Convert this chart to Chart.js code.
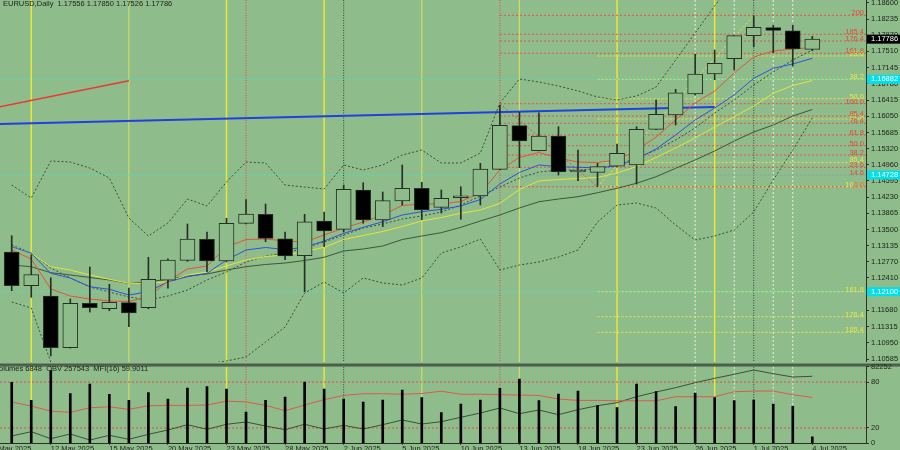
<!DOCTYPE html>
<html>
<head>
<meta charset="utf-8">
<title>EURUSD Daily</title>
<script src="https://cdn.jsdelivr.net/npm/chart.js@4.4.1/dist/chart.umd.min.js"></script>
<style>
  html, body { margin: 0; padding: 0; background: #8fbc8b; overflow: hidden; }
  #wrap { position: relative; width: 900px; height: 450px; }
  canvas { position: absolute; left: 0; }
  #priceChart { top: 0; }
  #volChart { top: 362px; }
</style>
</head>
<body>
<div id="wrap">
  <canvas id="priceChart" width="900" height="362"></canvas>
  <canvas id="volChart" width="900" height="88"></canvas>
</div>
<script>
const BG = '#8fbc8b';
const INK = '#1b211b';
const EDGE = '#263026';
const FONT_FAMILY = '"Liberation Sans", Arial, sans-serif';
const FONT_SIZE = 7.5;
const FONT = FONT_SIZE + 'px ' + FONT_FAMILY;
const X_MIN = -0.6;
const X_MAX = 43.75;

// daily bars, 8 May 2025 .. 4 Jul 2025
const opens = [1.12994, 1.12235, 1.12003, 1.10839, 1.11839, 1.11717, 1.11853, 1.11740, 1.12357, 1.12807, 1.13280, 1.12791, 1.13640, 1.13843, 1.13293, 1.12911, 1.13692, 1.13505, 1.14390, 1.13714, 1.14142, 1.14428, 1.14000, 1.14216, 1.14255, 1.14856, 1.15838, 1.15275, 1.15606, 1.14795, 1.14788, 1.14924, 1.14953, 1.15756, 1.16080, 1.16551, 1.17002, 1.17346, 1.17864, 1.18044, 1.17976, 1.17556];
const highs = [1.13361, 1.12933, 1.12415, 1.11936, 1.12656, 1.12267, 1.12184, 1.12875, 1.12843, 1.13624, 1.13444, 1.13753, 1.14176, 1.14075, 1.13444, 1.13843, 1.13895, 1.14502, 1.14554, 1.14345, 1.14953, 1.14563, 1.14390, 1.14464, 1.14991, 1.16304, 1.16139, 1.16130, 1.15815, 1.15290, 1.14991, 1.15426, 1.15815, 1.16416, 1.16657, 1.17452, 1.17542, 1.17870, 1.18314, 1.18105, 1.18105, 1.17850];
const lows = [1.12123, 1.11974, 1.10653, 1.10830, 1.11643, 1.11672, 1.11312, 1.11717, 1.12177, 1.12784, 1.12550, 1.12769, 1.13625, 1.13226, 1.12821, 1.12100, 1.13113, 1.13450, 1.13640, 1.13564, 1.14052, 1.13721, 1.13872, 1.13730, 1.14052, 1.14850, 1.14892, 1.15268, 1.14728, 1.14599, 1.14464, 1.14915, 1.14525, 1.15750, 1.15853, 1.16530, 1.16873, 1.17092, 1.17616, 1.17481, 1.17182, 1.17526];
const closes = [1.12235, 1.12483, 1.10839, 1.11839, 1.11740, 1.11862, 1.11621, 1.12379, 1.12814, 1.13287, 1.12791, 1.13640, 1.13850, 1.13302, 1.12904, 1.13676, 1.13467, 1.14406, 1.13714, 1.14149, 1.14428, 1.13940, 1.14203, 1.14236, 1.14863, 1.15847, 1.15493, 1.15606, 1.14795, 1.14810, 1.14915, 1.15216, 1.15756, 1.16094, 1.16580, 1.17002, 1.17242, 1.17864, 1.18053, 1.17985, 1.17564, 1.17786];

// moving averages
const maRed = [1.13039, 1.12836, 1.12161, 1.12003, 1.11936, 1.11891, 1.11880, 1.11981, 1.12341, 1.12611, 1.12679, 1.13107, 1.13275, 1.13287, 1.13242, 1.13219, 1.13377, 1.13534, 1.13669, 1.13827, 1.14041, 1.14075, 1.14075, 1.14131, 1.14322, 1.14840, 1.15122, 1.15234, 1.15110, 1.15020, 1.15009, 1.15065, 1.15290, 1.15583, 1.15966, 1.16349, 1.16619, 1.17024, 1.17384, 1.17519, 1.17564, 1.17598];
const maBlue = [1.13113, 1.12965, 1.12514, 1.12409, 1.12213, 1.12154, 1.12026, 1.12100, 1.12325, 1.12438, 1.12514, 1.12814, 1.13039, 1.13095, 1.13050, 1.13100, 1.13242, 1.13415, 1.13550, 1.13676, 1.13827, 1.13901, 1.13955, 1.14030, 1.14176, 1.14525, 1.14784, 1.14953, 1.14914, 1.14901, 1.14890, 1.14930, 1.15088, 1.15313, 1.15628, 1.15966, 1.16236, 1.16529, 1.16905, 1.17130, 1.17227, 1.17355];
const maYellow = [1.13113, 1.12965, 1.12663, 1.12589, 1.12476, 1.12379, 1.12289, 1.12289, 1.12325, 1.12476, 1.12544, 1.12679, 1.12814, 1.12893, 1.12926, 1.13001, 1.13100, 1.13275, 1.13366, 1.13456, 1.13568, 1.13692, 1.13771, 1.13865, 1.13940, 1.14090, 1.14401, 1.14593, 1.14626, 1.14649, 1.14671, 1.14773, 1.14919, 1.15122, 1.15335, 1.15561, 1.15808, 1.16040, 1.16281, 1.16567, 1.16743, 1.16855];
const maGray = [1.12701, 1.12663, 1.12528, 1.12476, 1.12420, 1.12364, 1.12285, 1.12325, 1.12379, 1.12454, 1.12499, 1.12589, 1.12663, 1.12713, 1.12746, 1.12803, 1.12875, 1.13017, 1.13062, 1.13129, 1.13275, 1.13354, 1.13429, 1.13550, 1.13692, 1.13827, 1.13985, 1.14126, 1.14187, 1.14239, 1.14329, 1.14428, 1.14541, 1.14689, 1.14878, 1.15065, 1.15268, 1.15493, 1.15696, 1.15853, 1.16056, 1.16202];

// bands (dotted)
const bandUpper = [1.14502, 1.14210, 1.15043, 1.15020, 1.14885, 1.14660, 1.13760, 1.13354, 1.13647, 1.14187, 1.14030, 1.14570, 1.15020, 1.14998, 1.14502, 1.14457, 1.14412, 1.14953, 1.14840, 1.14953, 1.15178, 1.15290, 1.14998, 1.14998, 1.15223, 1.16349, 1.16889, 1.16821, 1.16731, 1.16619, 1.16484, 1.16416, 1.16506, 1.16709, 1.17317, 1.17925, 1.18532, 1.19118, 1.19568, 1.19906, 1.20131, 1.20289];
const bandMid = [1.13152, 1.12972, 1.12634, 1.12409, 1.12206, 1.12093, 1.11981, 1.11913, 1.12003, 1.12138, 1.12364, 1.12544, 1.12769, 1.12904, 1.12972, 1.13084, 1.13219, 1.13377, 1.13534, 1.13624, 1.13737, 1.13805, 1.13895, 1.14052, 1.14255, 1.14457, 1.14660, 1.14795, 1.14840, 1.14840, 1.14863, 1.14953, 1.15110, 1.15290, 1.15516, 1.15786, 1.16123, 1.16416, 1.16754, 1.17047, 1.17317, 1.17542];
const bandLower = [1.11868, 1.11733, 1.10517, 1.10225, 1.10067, 1.10112, 1.10225, 1.10337, 1.10382, 1.10427, 1.10472, 1.10540, 1.10630, 1.10968, 1.11305, 1.12071, 1.12319, 1.12071, 1.12409, 1.12296, 1.12251, 1.12409, 1.12972, 1.13107, 1.13287, 1.12589, 1.12701, 1.12769, 1.12881, 1.13039, 1.13669, 1.14052, 1.14097, 1.13985, 1.13602, 1.13264, 1.13354, 1.13489, 1.13895, 1.14615, 1.15290, 1.16011];

// lower pane
const volumes = [65500, 46170, 77960, 53260, 63670, 52620, 46170, 54330, 47570, 59380, 60780, 58310, 33610, 46170, 49720, 65820, 58310, 47570, 44350, 46500, 57230, 48970, 32860, 42200, 46500, 59060, 69040, 45740, 52940, 56160, 40370, 38230, 63670, 55410, 39300, 54010, 48970, 45740, 46500, 42200, 39730, 6848];
const obv = [-399000, -351900, -428900, -377200, -443200, -391500, -435500, -380500, -333200, -274900, -325500, -270500, -245200, -289200, -329900, -270500, -322200, -281500, -322200, -274900, -223200, -267200, -241900, -193500, -146200, -91200, -153900, -113200, -164900, -109900, -65900, -32900, 33100, 84800, 132100, 187100, 235500, 279500, 326800, 286100, 249800, 257543];
const mfi = [54, 48.6, 42, 40.4, 46.4, 47.7, 44.3, 49, 49.5, 49.5, 50, 55, 54, 49.5, 42.5, 50, 57, 62.5, 64.7, 64.7, 64, 65, 68, 64, 64, 63.4, 63, 62.5, 57.8, 56, 56, 55.5, 55.5, 55.5, 60.8, 60.8, 60.8, 67.3, 68.2, 68.2, 63.4, 59.9011];
const VOL_MAX = 82252;
const OBV_MIN = -479500;
const OBV_MAX = 363100;
const mfiLevels = [20, 80];
const paneTicks = [0, 20, 80, 100];
const paneTickLabels = ['0', '20', '80', String(VOL_MAX)];

// axes
const priceTicks = [1.18600, 1.18235, 1.17870, 1.17510, 1.17145, 1.16780, 1.16415, 1.16050, 1.15685, 1.15320, 1.14960, 1.14595, 1.14230, 1.13865, 1.13500, 1.13135, 1.12770, 1.12410, 1.12045, 1.11680, 1.11315, 1.10950, 1.10585];
const dateTickIdx = [-1, 2, 5, 8, 11, 14, 17, 20, 23, 26, 29, 32, 35, 38, 41];
const dateTickLabels = ['7 May 2025', '12 May 2025', '15 May 2025', '20 May 2025', '23 May 2025', '28 May 2025', '2 Jun 2025', '5 Jun 2025', '10 Jun 2025', '13 Jun 2025', '18 Jun 2025', '23 Jun 2025', '26 Jun 2025', '1 Jul 2025', '4 Jul 2025'];

// drawing objects
const brightWeekLines = [1, 11, 16, 31, 36];
const paleWeekLines = [6, 21, 26];
const redMarkLines = [12, 25];
const darkMarkLines = [17, 38];
const whiteMarkLines = [35, 37, 39, 40];
const redFibStart = 25;
const redFibLevels = [1.18323, 1.17895, 1.17744, 1.17468, 1.16333, 1.16056, 1.15892, 1.15628, 1.15387, 1.15178, 1.14901, 1.14728, 1.14464];
const redFibLabels = ['200', '185.4', '176.4', '161.8', '100.0', '85.4', '76.4', '61.8', '50.0', '38.2', '23.6', '14.6', '0.0'];
const yellowFibStart = 30;
const yellowFibLevels = [1.17407, 1.16882, 1.16445, 1.15988, 1.15013, 1.14464, 1.12100, 1.11537, 1.11186];
const yellowFibLabels = ['23.6', '38.2', '50.0', '61.8', '85.4', '100.0', '161.8', '176.4', '185.4'];
const cyanLevels = [1.16882, 1.14728, 1.12100];
const blueTrendX = [-1, 36];
const blueTrendY = [1.15872, 1.16259];
const redTrendX = [-1, 6];
const redTrendY = [1.16230, 1.16851];
const redDiagX = [25, 30];
const redDiagY = [1.16333, 1.14464];
const yellowDiagX = [30, 38];
const yellowDiagY = [1.14464, 1.18314];

Chart.defaults.font.family = FONT_FAMILY;
Chart.defaults.font.size = FONT_SIZE;
Chart.defaults.color = INK;

const last = closes.length - 1;

function series(values) {
    return values.map((v, i) => ({ x: i, y: v }));
}

function points(xs, ys) {
    return xs.map((x, i) => ({ x: x, y: ys[i] }));
}

function lineDs(data, color, width, dash, order, axis) {
    return {
        type: 'line',
        data: data,
        borderColor: color,
        borderWidth: width,
        borderDash: dash,
        pointRadius: 0,
        tension: 0,
        order: order,
        yAxisID: axis || 'y'
    };
}

function drawVLines(chart) {
    const { ctx, chartArea: a, scales: { x } } = chart;
    ctx.save();
    ctx.beginPath();
    ctx.rect(a.left, a.top, a.right - a.left, a.bottom - a.top);
    ctx.clip();
    const strokeAt = (list, color, width, dash) => {
        ctx.strokeStyle = color;
        ctx.lineWidth = width;
        ctx.setLineDash(dash);
        list.forEach(i => {
            const px = x.getPixelForValue(i);
            ctx.beginPath();
            ctx.moveTo(px, a.top);
            ctx.lineTo(px, a.bottom);
            ctx.stroke();
        });
    };
    strokeAt(paleWeekLines, '#cfdc6a', 1.2, []);
    strokeAt(brightWeekLines, '#e8e838', 1.5, []);
    strokeAt(redMarkLines, '#e04848', 1, [1, 1.5]);
    strokeAt(darkMarkLines, '#34423a', 1, [1, 1.5]);
    strokeAt(whiteMarkLines, '#e8eee0', 1, [2, 2]);
    ctx.restore();
}

const vlinePlugin = { id: 'vlines', beforeDatasetsDraw: drawVLines };

// fib labels, header and axis boxes on the price pane
const priceOverlay = {
    id: 'priceOverlay',
    afterDraw(chart) {
        const { ctx, chartArea: a, scales: { y } } = chart;
        ctx.save();
        ctx.font = FONT;
        ctx.textBaseline = 'middle';
        ctx.textAlign = 'right';
        ctx.fillStyle = '#e6e64a';
        yellowFibLevels.forEach((v, k) => ctx.fillText(yellowFibLabels[k], a.right - 2, y.getPixelForValue(v) - 2));
        ctx.fillStyle = '#e8483c';
        redFibLevels.forEach((v, k) => ctx.fillText(redFibLabels[k], a.right - 2, y.getPixelForValue(v) - 2));

        ctx.textAlign = 'left';
        ctx.fillStyle = INK;
        ctx.fillText('EURUSD,Daily  ' + [opens[last], highs[last], lows[last], closes[last]].map(v => v.toFixed(5)).join(' '), 3, 4);

        const box = (v, bg) => {
            const py = y.getPixelForValue(v);
            ctx.fillStyle = bg;
            ctx.fillRect(a.right + 1, py - 4.5, chart.width - a.right - 1, 9);
            ctx.fillStyle = '#ffffff';
            ctx.fillText(v.toFixed(5), a.right + 5, py);
        };
        cyanLevels.forEach(v => box(v, '#00e0e8'));
        box(closes[last], '#000000');
        ctx.restore();
    }
};

const paneOverlay = {
    id: 'paneOverlay',
    afterDraw(chart) {
        const { ctx, chartArea: a } = chart;
        ctx.save();
        ctx.strokeStyle = '#2b302b';
        ctx.lineWidth = 1;
        [a.top - 2.5, a.top - 0.8].forEach(py => {
            ctx.beginPath();
            ctx.moveTo(0, py);
            ctx.lineTo(chart.width, py);
            ctx.stroke();
        });
        ctx.font = FONT;
        ctx.fillStyle = INK;
        ctx.textBaseline = 'middle';
        ctx.fillText('Volumes ' + volumes[last] + '  OBV ' + obv[last] + '  MFI(16) ' + mfi[last].toFixed(4), -5.5, a.top + 2.5);
        ctx.restore();
    }
};

// candles
const bodyData = opens.map((o, i) => ({ x: i, y: [Math.min(o, closes[i]), Math.max(o, closes[i])] }));
const wickData = opens.map((o, i) => ({ x: i, y: [lows[i], highs[i]] }));
const bodyColors = opens.map((o, i) => closes[i] < o ? '#000000' : BG);

const priceDatasets = [
    {
        type: 'bar', data: bodyData, backgroundColor: bodyColors, borderColor: EDGE,
        borderWidth: 1, borderSkipped: false, barThickness: 15, minBarLength: 2, grouped: false, order: 0
    },
    { type: 'bar', data: wickData, backgroundColor: EDGE, barThickness: 1, grouped: false, order: 1 },
    lineDs(series(maRed), '#e8503c', 1, [], 2),
    lineDs(series(maBlue), '#3050e0', 1, [], 2),
    lineDs(series(maYellow), '#e4e43c', 1, [], 2),
    lineDs(series(maGray), '#3c563c', 1, [], 2),
    lineDs(series(bandUpper), '#3a503a', 1, [2, 2], 3),
    lineDs(series(bandMid), '#3a503a', 1, [2, 2], 3),
    lineDs(series(bandLower), '#3a503a', 1, [2, 2], 3),
    lineDs(points(blueTrendX, blueTrendY), '#2040e0', 2, [], 4),
    lineDs(points(redTrendX, redTrendY), '#e83a30', 1.5, [], 4),
    lineDs(points(redDiagX, redDiagY), '#e04848', 1, [2, 2], 5),
    lineDs(points(yellowDiagX, yellowDiagY), '#e6e64a', 1, [2, 2], 5)
];
redFibLevels.forEach(v => priceDatasets.push(lineDs(points([redFibStart, X_MAX], [v, v]), '#e85048', 1, [2, 2], 6)));
yellowFibLevels.forEach(v => priceDatasets.push(lineDs(points([yellowFibStart, X_MAX], [v, v]), '#e6e64a', 1, [2, 2], 6)));
cyanLevels.forEach(v => priceDatasets.push(lineDs(points([X_MIN, X_MAX], [v, v]), '#52dcc8', 1, [2, 2], 5)));

const noFrills = {
    responsive: false,
    animation: false,
    devicePixelRatio: 1,
    events: [],
    plugins: { legend: { display: false }, tooltip: { enabled: false } }
};

new Chart(document.getElementById('priceChart'), {
    type: 'bar',
    data: { datasets: priceDatasets },
    options: Object.assign({}, noFrills, {
        layout: { padding: 0 },
        scales: {
            x: { type: 'linear', min: X_MIN, max: X_MAX, offset: false, bounds: 'data', display: false },
            y: {
                position: 'right',
                min: 1.105175,
                max: 1.186675,
                afterBuildTicks: axis => { axis.ticks = priceTicks.map(v => ({ value: v })); },
                afterFit: axis => { axis.width = 34; axis.paddingTop = 0; axis.paddingBottom = 0; },
                ticks: { autoSkip: false, padding: 2, color: INK, callback: v => v.toFixed(5) },
                grid: { drawOnChartArea: false, tickLength: 3, color: '#2b302b' },
                border: { display: true, color: '#2b302b' }
            }
        }
    }),
    plugins: [vlinePlugin, priceOverlay]
});

const paneDatasets = [
    { type: 'bar', data: series(volumes), backgroundColor: '#000000', barThickness: 2, grouped: false, yAxisID: 'yVol', order: 0 },
    lineDs(series(mfi), '#dc5a4c', 1, [], 1, 'y'),
    lineDs(series(obv), '#3c503c', 1, [], 1, 'yObv')
];
mfiLevels.forEach(v => paneDatasets.push(lineDs(points([X_MIN, X_MAX], [v, v]), '#e05048', 1, [2, 2], 3, 'y')));

new Chart(document.getElementById('volChart'), {
    type: 'bar',
    data: { datasets: paneDatasets },
    options: Object.assign({}, noFrills, {
        layout: { padding: { top: 4.7 } },
        scales: {
            x: {
                type: 'linear',
                min: X_MIN,
                max: X_MAX,
                offset: false,
                bounds: 'data',
                position: 'bottom',
                afterBuildTicks: axis => { axis.ticks = dateTickIdx.map(v => ({ value: v })); },
                afterFit: axis => { axis.height = 6.7; axis.paddingLeft = 0; axis.paddingRight = 0; },
                ticks: { autoSkip: false, maxRotation: 0, align: 'start', padding: 0, color: INK, callback: (v, i) => dateTickLabels[i] },
                grid: { drawOnChartArea: false, offset: false, tickLength: 1.5, color: '#2b302b' },
                border: { display: true, color: '#2b302b' }
            },
            y: {
                position: 'right',
                min: 0,
                max: 100,
                afterBuildTicks: axis => { axis.ticks = paneTicks.map(v => ({ value: v })); },
                afterFit: axis => { axis.width = 34; axis.paddingTop = 0; axis.paddingBottom = 0; },
                ticks: { autoSkip: false, padding: 2, color: INK, callback: (v, i) => paneTickLabels[i] },
                grid: { drawOnChartArea: false, tickLength: 3, color: '#2b302b' },
                border: { display: true, color: '#2b302b' }
            },
            yVol: { axis: 'y', position: 'right', display: false, min: 0, max: VOL_MAX },
            yObv: { axis: 'y', position: 'right', display: false, min: OBV_MIN, max: OBV_MAX }
        }
    }),
    plugins: [vlinePlugin, paneOverlay]
});
</script>
</body>
</html>
